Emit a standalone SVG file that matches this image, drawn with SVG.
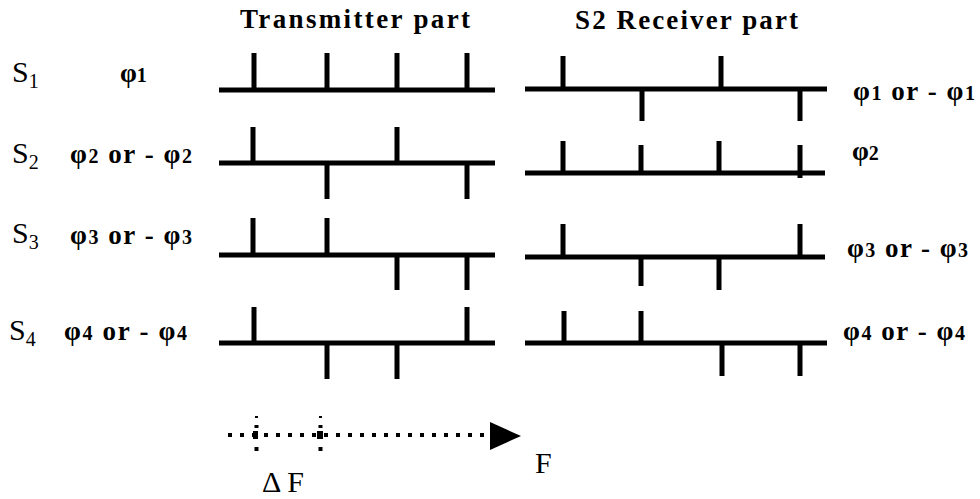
<svg xmlns="http://www.w3.org/2000/svg" width="980" height="499" viewBox="0 0 980 499">
<style>
.w{fill:none;stroke:#000;stroke-width:5;stroke-linecap:butt}
.h{font-family:"Liberation Serif","Times New Roman",serif;font-weight:bold;font-size:27px;fill:#000}
.s{font-family:"Liberation Serif","Times New Roman",serif;font-size:30px;fill:#000}
.p{font-family:"Liberation Serif","Times New Roman",serif;font-weight:bold;font-size:27px;fill:#000}
.sub{font-size:20px}
</style>
<rect width="980" height="499" fill="#fff"/>
<g id="headers">
<text class="h" x="240" y="28" textLength="230" lengthAdjust="spacing">Transmitter part</text>
<text class="h" x="575" y="29" textLength="223" lengthAdjust="spacing">S2 Receiver part</text>
</g>
<g id="labels-left">
<text class="s" x="12" y="82">S<tspan class="sub" dy="6">1</tspan></text>
<text class="s" x="12" y="163">S<tspan class="sub" dy="6">2</tspan></text>
<text class="s" x="12" y="243">S<tspan class="sub" dy="6">3</tspan></text>
<text class="s" x="9" y="340">S<tspan class="sub" dy="6">4</tspan></text>
<text class="p" x="120" y="82">φ<tspan class="sub">1</tspan></text>
<text class="p" x="70" y="163" textLength="122" lengthAdjust="spacing">φ<tspan class="sub">2</tspan> or - φ<tspan class="sub">2</tspan></text>
<text class="p" x="70" y="244" textLength="122" lengthAdjust="spacing">φ<tspan class="sub">3</tspan> or - φ<tspan class="sub">3</tspan></text>
<text class="p" x="64" y="340" textLength="123" lengthAdjust="spacing">φ<tspan class="sub">4</tspan> or - φ<tspan class="sub">4</tspan></text>
</g>
<g id="labels-right">
<text class="p" x="853" y="100" textLength="122" lengthAdjust="spacing">φ<tspan class="sub">1</tspan> or - φ<tspan class="sub">1</tspan></text>
<text class="p" x="852" y="160">φ<tspan class="sub">2</tspan></text>
<text class="p" x="847" y="257" textLength="121" lengthAdjust="spacing">φ<tspan class="sub">3</tspan> or - φ<tspan class="sub">3</tspan></text>
<text class="p" x="843" y="340" textLength="122" lengthAdjust="spacing">φ<tspan class="sub">4</tspan> or - φ<tspan class="sub">4</tspan></text>
</g>
<g id="tx1"><path class="w" d="M219 90H495M254 90V53M327 90V53M397 90V53M467 90V53"/></g>
<g id="tx2"><path class="w" d="M219 163H495M253 163V127M397 163V127M327 163V199M467 163V199"/></g>
<g id="tx3"><path class="w" d="M219 255H495M253 255V218M327 255V218M397 255V290M467 255V290"/></g>
<g id="tx4"><path class="w" d="M219 343H495M254 343V307M467 343V307M327 343V379M397 343V379"/></g>
<g id="rx1"><path class="w" d="M525 89H827M563 89V56M721 89V56M642 89V121M800 89V121"/></g>
<g id="rx2"><path class="w" d="M525 173H825M563 173V141M719 173V141M641 173V145M800 178V145"/></g>
<g id="rx3"><path class="w" d="M525 257H825M563 257V224M800 257V224M641 257V286M719 257V290"/></g>
<g id="rx4"><path class="w" d="M525 343H827M564 343V311M641 343V311M722 343V376M800 343V376"/></g>
<g id="connectors">
<line x1="228" y1="435" x2="490" y2="435" stroke="#000" stroke-width="4" stroke-dasharray="4 8"/>
<polygon points="490,422 521,436 490,450" fill="#000"/>
<g fill="#000">
<rect x="255" y="416" width="3" height="2"/>
<rect x="254.5" y="425" width="4" height="3"/>
<rect x="253" y="431" width="5" height="8"/>
<rect x="254.5" y="447" width="4" height="4"/>
<rect x="319" y="416" width="3" height="2"/>
<rect x="318.5" y="425" width="4" height="3"/>
<rect x="317" y="431" width="6" height="8"/>
<rect x="318.5" y="447" width="4" height="4"/>
</g>
</g>
<g id="axis-labels">
<text class="s" x="262" y="492" font-size="26">Δ F</text>
<text class="s" x="535" y="473" font-size="28">F</text>
</g>
</svg>
